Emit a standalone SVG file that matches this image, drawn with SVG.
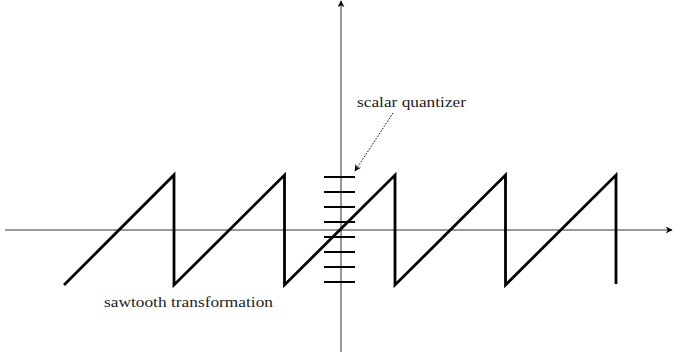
<svg xmlns="http://www.w3.org/2000/svg" width="673" height="358" viewBox="0 0 673 358">
<style>
.axis{stroke:#333;stroke-width:1;fill:none}
.saw{stroke:#000;stroke-width:2.8;fill:none;stroke-linejoin:miter}
.tick{stroke:#000;stroke-width:2}
.lbl{font-family:"Liberation Serif",serif;font-size:14px;fill:#222}
</style>
<defs>
<marker id="ah" viewBox="0 0 10 10" refX="9" refY="5" markerWidth="7" markerHeight="7" markerUnits="userSpaceOnUse" orient="auto">
<path d="M0,0 L10,5 L0,10 L3,5 Z" fill="#000"/>
</marker>
</defs>
<g id="axes">
<line class="axis" x1="5" y1="230" x2="672" y2="230" marker-end="url(#ah)"/>
<line class="axis" x1="341" y1="352" x2="341" y2="1" marker-end="url(#ah)"/>
</g>
<g id="sawtooth">
<polyline class="saw" points="64,285 174,175 174,285 284.5,175 284.5,285 395,175 395,285 505.5,175 505.5,285 616,175 616,284"/>
</g>
<g id="quantizer">
<line class="tick" x1="324" y1="177" x2="355" y2="177"/>
<line class="tick" x1="324" y1="192" x2="355" y2="192"/>
<line class="tick" x1="324" y1="207" x2="355" y2="207"/>
<line class="tick" x1="324" y1="222" x2="355" y2="222"/>
<line class="tick" x1="324" y1="237" x2="355" y2="237"/>
<line class="tick" x1="324" y1="252" x2="355" y2="252"/>
<line class="tick" x1="324" y1="267" x2="355" y2="267"/>
<line class="tick" x1="324" y1="282" x2="355" y2="282"/>
</g>
<g id="connectors">
<line x1="393" y1="113" x2="355" y2="171" stroke="#000" stroke-width="1" stroke-dasharray="1.5,1.5" marker-end="url(#ah)"/>
</g>
<g id="labels">
<text class="lbl" x="357" y="107" textLength="109" lengthAdjust="spacingAndGlyphs">scalar quantizer</text>
<text class="lbl" x="104" y="307" textLength="169" lengthAdjust="spacingAndGlyphs">sawtooth transformation</text>
</g>
</svg>
